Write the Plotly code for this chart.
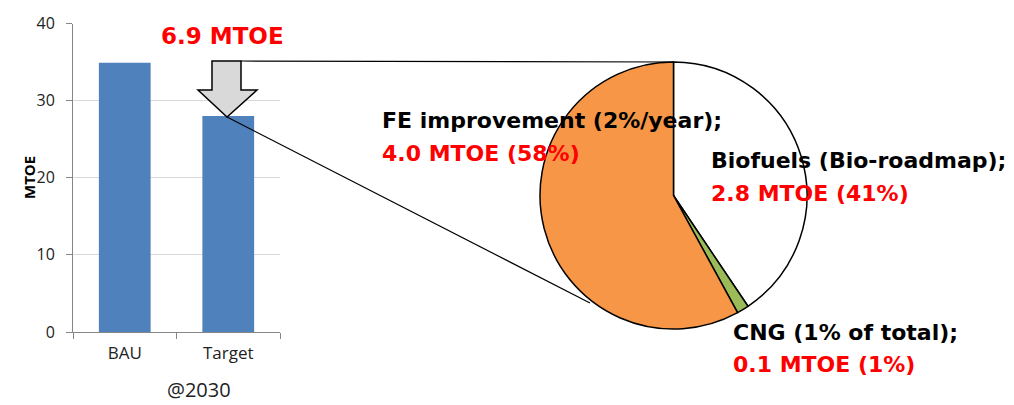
import plotly.graph_objects as go

# bar data (MTOE @2030)
scenarios = ["BAU", "Target"]
demand = [34.9, 28.0]
y_ticks = [0, 10, 20, 30, 40]

# savings split (MTOE)
measures = ["Biofuels", "CNG", "FE improvement"]
savings = [2.8, 0.1, 4.0]
slice_colors = ["#ffffff", "#9bbb59", "#f79646"]

W, H = 1014, 405


def px(x, y):
    # pixel position -> paper coords
    return x / W, 1 - y / H


fig = go.Figure()

fig.add_trace(go.Bar(
    x=scenarios, y=demand,
    marker=dict(color="#4f81bd", line=dict(width=0)),
    xaxis="x", yaxis="y", showlegend=False
))

x0, y0 = px(540, 329)
x1, y1 = px(807, 62)
fig.add_trace(go.Pie(
    labels=measures, values=savings,
    marker=dict(colors=slice_colors, line=dict(color="black", width=1.5)),
    sort=False, direction="clockwise", rotation=0,
    textinfo="none", hoverinfo="label+value",
    domain=dict(x=[x0, x1], y=[y0, y1]),
    showlegend=False
))

shapes = []
# block arrow pointing at the Target bar
arrow = [(212, 61), (241, 61), (241, 90), (257, 90), (227, 117),
         (198, 90), (212, 90)]
path = "M " + " L ".join(f"{px(a, b)[0]:.5f},{px(a, b)[1]:.5f}" for a, b in arrow) + " Z"
shapes.append(dict(type="path", xref="paper", yref="paper", path=path,
                   fillcolor="#d9d9d9", line=dict(color="black", width=1.5)))
# connector lines to the pie
for (a, b), (c, d) in [((241, 61), (673, 62)), ((227, 117), (590, 303))]:
    p, q = px(a, b)
    r, s = px(c, d)
    shapes.append(dict(type="line", xref="paper", yref="paper",
                       x0=p, y0=q, x1=r, y1=s,
                       line=dict(color="black", width=1.2)))

bold = "DejaVu Sans"
annotations = []


def label(x, y, text, color, size=22, anchor="left"):
    p, q = px(x, y)
    annotations.append(dict(x=p, y=q, xref="paper", yref="paper",
                            text=f"<b>{text}</b>", showarrow=False,
                            xanchor=anchor, yanchor="middle",
                            font=dict(family=bold, size=size, color=color)))


label(159, 36, "6.9 MTOE", "#ff0000", size=23)
label(380, 121, "FE improvement (2%/year);", "black")
label(380, 153, "4.0 MTOE (58%)", "#ff0000")
label(709, 161, "Biofuels (Bio-roadmap);", "black")
label(709, 193, "2.8 MTOE (41%)", "#ff0000")
label(731, 332, "CNG (1% of total);", "black")
label(731, 364, "0.1 MTOE (1%)", "#ff0000")

p, q = px(17, 178)
annotations.append(dict(x=p, y=q, xref="paper", yref="paper", text="<b>MTOE</b>",
                        showarrow=False, textangle=-90,
                        font=dict(family="Open Sans", size=15, color="black")))
p, q = px(165, 405)
annotations.append(dict(x=p, y=q, xref="paper", yref="paper", text="@2030",
                        showarrow=False, yanchor="bottom",
                        font=dict(family="Open Sans", size=20, color="#222222")))

xa0, ya0 = px(73, 332)
xa1, ya1 = px(280, 23.5)
fig.update_layout(
    width=W, height=H,
    margin=dict(l=0, r=0, t=0, b=0, autoexpand=False),
    paper_bgcolor="white", plot_bgcolor="white",
    bargap=0.5,
    font=dict(family="Open Sans", size=14, color="#222222"),
    xaxis=dict(domain=[xa0, xa1], anchor="y", showline=True,
               linecolor="#868686", ticks="outside", ticklen=6,
               tickcolor="#868686", tickson="boundaries",
               ticklabelstandoff=6,
               tickfont=dict(size=17, color="#222222"), showgrid=False),
    yaxis=dict(domain=[ya0, ya1], anchor="x", range=[0, 40],
               tickvals=y_ticks, showline=True, linecolor="#868686",
               ticks="outside", ticklen=6, tickcolor="#868686",
               ticklabelstandoff=8,
               gridcolor="#d9d9d9", tickfont=dict(size=16, color="#222222"),
               zeroline=False),
    shapes=shapes,
    annotations=annotations,
)

# drop the default 8px page margin so the figure sits at the window corner
fig.write_html("out.html", config={"displayModeBar": False},
               post_script="document.body.style.margin = '0';")
